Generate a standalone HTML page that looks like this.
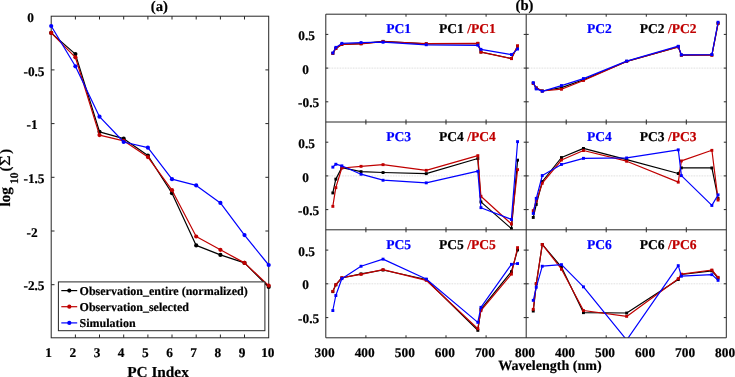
<!DOCTYPE html>
<html><head><meta charset="utf-8"><title>PCA figure</title>
<style>
html,body{margin:0;padding:0;background:#fff;}
body{width:735px;height:377px;overflow:hidden;}
svg{display:block;filter:blur(0.35px);}
text{font-family:"Liberation Serif",serif;font-weight:bold;color:#000;fill:currentColor;stroke:currentColor;stroke-width:0.2px;text-rendering:geometricPrecision;}
.t{font-size:13.33px;}
.l{font-size:14.67px;}
.pc{font-size:13.55px;}
.ax{stroke:#262626;stroke-width:1;fill:none;}
.ln{fill:none;stroke-width:1.2;stroke-linejoin:round;stroke-linecap:round;}
</style></head><body>
<svg width="735" height="377" viewBox="0 0 735 377">
<rect x="0" y="0" width="735" height="377" fill="#fff"/>
<g id="panel-a">
<rect class="ax" x="51.2" y="16.2" width="217.5" height="321.6"/>
<path class="ax" d="M75.4 337.8v-3.3M75.4 16.2v3.3M99.5 337.8v-3.3M99.5 16.2v3.3M123.7 337.8v-3.3M123.7 16.2v3.3M147.9 337.8v-3.3M147.9 16.2v3.3M172.0 337.8v-3.3M172.0 16.2v3.3M196.2 337.8v-3.3M196.2 16.2v3.3M220.4 337.8v-3.3M220.4 16.2v3.3M244.5 337.8v-3.3M244.5 16.2v3.3M51.2 69.9h3.3M268.7 69.9h-3.3M51.2 123.6h3.3M268.7 123.6h-3.3M51.2 177.3h3.3M268.7 177.3h-3.3M51.2 231.0h3.3M268.7 231.0h-3.3M51.2 284.7h3.3M268.7 284.7h-3.3"/>
<polyline class="ln" points="51.2,32.9 75.4,54.1 99.5,131.8 123.7,138.7 147.9,155.6 172.0,193.2 196.2,245.4 220.4,254.9 244.5,262.9 268.7,287.0" stroke="#000000" style="stroke-width:1.2"/>
<circle cx="51.2" cy="32.9" r="2.1" fill="#000000"/><circle cx="75.4" cy="54.1" r="2.1" fill="#000000"/><circle cx="99.5" cy="131.8" r="2.1" fill="#000000"/><circle cx="123.7" cy="138.7" r="2.1" fill="#000000"/><circle cx="147.9" cy="155.6" r="2.1" fill="#000000"/><circle cx="172.0" cy="193.2" r="2.1" fill="#000000"/><circle cx="196.2" cy="245.4" r="2.1" fill="#000000"/><circle cx="220.4" cy="254.9" r="2.1" fill="#000000"/><circle cx="244.5" cy="262.9" r="2.1" fill="#000000"/><circle cx="268.7" cy="287.0" r="2.1" fill="#000000"/>
<polyline class="ln" points="51.2,32.9 75.4,57.3 99.5,135.1 123.7,140.8 147.9,157.1 172.0,190.2 196.2,236.5 220.4,249.8 244.5,262.9 268.7,285.6" stroke="#c00000" style="stroke-width:1.2"/>
<circle cx="51.2" cy="32.9" r="2.1" fill="#c00000"/><circle cx="75.4" cy="57.3" r="2.1" fill="#c00000"/><circle cx="99.5" cy="135.1" r="2.1" fill="#c00000"/><circle cx="123.7" cy="140.8" r="2.1" fill="#c00000"/><circle cx="147.9" cy="157.1" r="2.1" fill="#c00000"/><circle cx="172.0" cy="190.2" r="2.1" fill="#c00000"/><circle cx="196.2" cy="236.5" r="2.1" fill="#c00000"/><circle cx="220.4" cy="249.8" r="2.1" fill="#c00000"/><circle cx="244.5" cy="262.9" r="2.1" fill="#c00000"/><circle cx="268.7" cy="285.6" r="2.1" fill="#c00000"/>
<polyline class="ln" points="51.2,26.0 75.4,66.3 99.5,116.7 123.7,142.0 147.9,147.7 172.0,179.2 196.2,185.4 220.4,202.9 244.5,235.1 268.7,265.0" stroke="#0000ff" style="stroke-width:1.2"/>
<circle cx="51.2" cy="26.0" r="2.1" fill="#0000ff"/><circle cx="75.4" cy="66.3" r="2.1" fill="#0000ff"/><circle cx="99.5" cy="116.7" r="2.1" fill="#0000ff"/><circle cx="123.7" cy="142.0" r="2.1" fill="#0000ff"/><circle cx="147.9" cy="147.7" r="2.1" fill="#0000ff"/><circle cx="172.0" cy="179.2" r="2.1" fill="#0000ff"/><circle cx="196.2" cy="185.4" r="2.1" fill="#0000ff"/><circle cx="220.4" cy="202.9" r="2.1" fill="#0000ff"/><circle cx="244.5" cy="235.1" r="2.1" fill="#0000ff"/><circle cx="268.7" cy="265.0" r="2.1" fill="#0000ff"/>
<text class="t" x="30.6" y="21.8" text-anchor="middle">0</text>
<text class="t" x="34.0" y="75.5" text-anchor="middle">-0.5</text>
<text class="t" x="32.0" y="129.2" text-anchor="middle">-1</text>
<text class="t" x="34.0" y="182.9" text-anchor="middle">-1.5</text>
<text class="t" x="32.0" y="236.6" text-anchor="middle">-2</text>
<text class="t" x="34.0" y="290.3" text-anchor="middle">-2.5</text>
<text class="t" x="48.7" y="356.9" text-anchor="middle">1</text>
<text class="t" x="72.9" y="356.9" text-anchor="middle">2</text>
<text class="t" x="97.0" y="356.9" text-anchor="middle">3</text>
<text class="t" x="121.2" y="356.9" text-anchor="middle">4</text>
<text class="t" x="145.4" y="356.9" text-anchor="middle">5</text>
<text class="t" x="169.5" y="356.9" text-anchor="middle">6</text>
<text class="t" x="193.7" y="356.9" text-anchor="middle">7</text>
<text class="t" x="217.9" y="356.9" text-anchor="middle">8</text>
<text class="t" x="242.0" y="356.9" text-anchor="middle">9</text>
<text class="t" x="267.8" y="356.9" text-anchor="middle">10</text>
<text x="158" y="376.6" text-anchor="middle" style="font-size:15.3px">PC Index</text>
<text class="l" x="159.3" y="11.4" text-anchor="middle">(a)</text>
<text transform="translate(9.8,206.5) rotate(-90)" style="font-size:15.2px">log</text>
<text transform="translate(17.9,184.0) rotate(-90)" style="font-size:11.6px">10</text>
<text class="l" transform="translate(9.8,171.4) rotate(-90)">(</text>
<text transform="translate(9.9,166.0) rotate(-90) scale(1.2,1)" style="font-size:15.3px;font-weight:normal">&#931;</text>
<text class="l" transform="translate(9.8,153.8) rotate(-90)">)</text>
<rect x="58.4" y="281.9" width="206.5" height="48.8" fill="#fff" stroke="#262626" stroke-width="1"/>
<path d="M61.3 290.6H77.2" stroke="#000000" stroke-width="1.2" fill="none"/>
<circle cx="69.3" cy="290.6" r="2.1" fill="#000000"/>
<text x="79.6" y="294.6" style="font-size:12px">Observation_entire (normalized)</text>
<path d="M61.3 306.7H77.2" stroke="#c00000" stroke-width="1.2" fill="none"/>
<circle cx="69.3" cy="306.7" r="2.1" fill="#c00000"/>
<text x="79.6" y="310.7" style="font-size:12px">Observation_selected</text>
<path d="M61.3 322.9H77.2" stroke="#0000ff" stroke-width="1.2" fill="none"/>
<circle cx="69.3" cy="322.9" r="2.1" fill="#0000ff"/>
<text x="79.6" y="326.9" style="font-size:12px">Simulation</text>
</g>
<defs>
<clipPath id="c00"><rect x="325.8" y="14.2" width="200.4" height="107.8"/></clipPath>
<clipPath id="c01"><rect x="526.2" y="14.2" width="200.1" height="107.8"/></clipPath>
<clipPath id="c10"><rect x="325.8" y="122.0" width="200.4" height="107.8"/></clipPath>
<clipPath id="c11"><rect x="526.2" y="122.0" width="200.1" height="107.8"/></clipPath>
<clipPath id="c20"><rect x="325.8" y="229.8" width="200.4" height="108.0"/></clipPath>
<clipPath id="c21"><rect x="526.2" y="229.8" width="200.1" height="108.0"/></clipPath>
</defs>
<g id="panel-b">
<path d="M325.8 68.1H526.2" stroke="#bdbdbd" stroke-width="0.6" stroke-dasharray="0.8 0.8" fill="none"/>
<g clip-path="url(#c00)">
<polyline class="ln" points="332.8,53.4 335.8,48.5 341.8,44.4 361.0,43.7 383.0,41.4 426.2,43.8 477.8,43.5 480.9,52.0 511.4,58.5 517.6,46.2" stroke="#000000" style="stroke-width:1.2"/>
<rect x="331.4" y="51.9" width="2.9" height="2.9" fill="#000000"/><rect x="334.4" y="47.0" width="2.9" height="2.9" fill="#000000"/><rect x="340.4" y="42.9" width="2.9" height="2.9" fill="#000000"/><rect x="359.6" y="42.2" width="2.9" height="2.9" fill="#000000"/><rect x="381.6" y="39.9" width="2.9" height="2.9" fill="#000000"/><rect x="424.8" y="42.3" width="2.9" height="2.9" fill="#000000"/><rect x="476.4" y="42.0" width="2.9" height="2.9" fill="#000000"/><rect x="479.5" y="50.5" width="2.9" height="2.9" fill="#000000"/><rect x="510.0" y="57.0" width="2.9" height="2.9" fill="#000000"/><rect x="516.1" y="44.8" width="2.9" height="2.9" fill="#000000"/>
<polyline class="ln" points="332.8,53.4 335.8,48.5 341.8,44.5 361.0,43.9 383.0,41.6 426.2,43.7 477.8,43.3 480.9,52.2 511.4,58.7 517.6,45.8" stroke="#c00000" style="stroke-width:1.2"/>
<rect x="331.4" y="51.9" width="2.9" height="2.9" fill="#c00000"/><rect x="334.4" y="47.0" width="2.9" height="2.9" fill="#c00000"/><rect x="340.4" y="43.0" width="2.9" height="2.9" fill="#c00000"/><rect x="359.6" y="42.4" width="2.9" height="2.9" fill="#c00000"/><rect x="381.6" y="40.1" width="2.9" height="2.9" fill="#c00000"/><rect x="424.8" y="42.2" width="2.9" height="2.9" fill="#c00000"/><rect x="476.4" y="41.8" width="2.9" height="2.9" fill="#c00000"/><rect x="479.5" y="50.8" width="2.9" height="2.9" fill="#c00000"/><rect x="510.0" y="57.2" width="2.9" height="2.9" fill="#c00000"/><rect x="516.1" y="44.3" width="2.9" height="2.9" fill="#c00000"/>
<polyline class="ln" points="332.8,53.0 335.8,47.4 341.8,43.4 361.0,42.6 383.0,42.2 426.2,44.8 477.8,45.3 480.9,49.4 511.4,54.6 517.6,49.1" stroke="#0000ff" style="stroke-width:1.2"/>
<rect x="331.4" y="51.5" width="2.9" height="2.9" fill="#0000ff"/><rect x="334.4" y="45.9" width="2.9" height="2.9" fill="#0000ff"/><rect x="340.4" y="41.9" width="2.9" height="2.9" fill="#0000ff"/><rect x="359.6" y="41.1" width="2.9" height="2.9" fill="#0000ff"/><rect x="381.6" y="40.8" width="2.9" height="2.9" fill="#0000ff"/><rect x="424.8" y="43.3" width="2.9" height="2.9" fill="#0000ff"/><rect x="476.4" y="43.8" width="2.9" height="2.9" fill="#0000ff"/><rect x="479.5" y="47.9" width="2.9" height="2.9" fill="#0000ff"/><rect x="510.0" y="53.1" width="2.9" height="2.9" fill="#0000ff"/><rect x="516.1" y="47.6" width="2.9" height="2.9" fill="#0000ff"/>
</g>
<text class="pc" x="386.3" y="33.4" style="color:#0000ff">PC1</text>
<text class="pc" x="439.0" y="33.4">PC1</text>
<text class="pc" x="467.2" y="33.4" style="color:#c00000">/PC1</text>
<path d="M526.2 68.1H726.3" stroke="#bdbdbd" stroke-width="0.6" stroke-dasharray="0.8 0.8" fill="none"/>
<g clip-path="url(#c01)">
<polyline class="ln" points="533.3,83.3 536.3,88.0 542.3,91.0 561.5,87.6 583.5,79.8 626.7,61.4 678.3,46.8 681.4,55.1 711.9,55.0 718.1,23.2" stroke="#000000" style="stroke-width:1.2"/>
<rect x="531.8" y="81.8" width="2.9" height="2.9" fill="#000000"/><rect x="534.8" y="86.5" width="2.9" height="2.9" fill="#000000"/><rect x="540.8" y="89.5" width="2.9" height="2.9" fill="#000000"/><rect x="560.0" y="86.1" width="2.9" height="2.9" fill="#000000"/><rect x="582.0" y="78.3" width="2.9" height="2.9" fill="#000000"/><rect x="625.2" y="59.9" width="2.9" height="2.9" fill="#000000"/><rect x="676.8" y="45.3" width="2.9" height="2.9" fill="#000000"/><rect x="679.9" y="53.6" width="2.9" height="2.9" fill="#000000"/><rect x="710.4" y="53.5" width="2.9" height="2.9" fill="#000000"/><rect x="716.6" y="21.8" width="2.9" height="2.9" fill="#000000"/>
<polyline class="ln" points="533.3,83.5 536.3,87.9 542.3,91.0 561.5,89.2 583.5,80.5 626.7,61.5 678.3,47.0 681.4,55.2 711.9,55.2 718.1,23.5" stroke="#c00000" style="stroke-width:1.2"/>
<rect x="531.8" y="82.0" width="2.9" height="2.9" fill="#c00000"/><rect x="534.8" y="86.5" width="2.9" height="2.9" fill="#c00000"/><rect x="540.8" y="89.5" width="2.9" height="2.9" fill="#c00000"/><rect x="560.0" y="87.8" width="2.9" height="2.9" fill="#c00000"/><rect x="582.0" y="79.0" width="2.9" height="2.9" fill="#c00000"/><rect x="625.2" y="60.0" width="2.9" height="2.9" fill="#c00000"/><rect x="676.8" y="45.5" width="2.9" height="2.9" fill="#c00000"/><rect x="679.9" y="53.8" width="2.9" height="2.9" fill="#c00000"/><rect x="710.4" y="53.8" width="2.9" height="2.9" fill="#c00000"/><rect x="716.6" y="22.1" width="2.9" height="2.9" fill="#c00000"/>
<polyline class="ln" points="533.3,82.7 536.3,88.9 542.3,91.3 561.5,85.6 583.5,78.6 626.7,61.1 678.3,46.2 681.4,54.9 711.9,54.6 718.1,22.2" stroke="#0000ff" style="stroke-width:1.2"/>
<rect x="531.8" y="81.2" width="2.9" height="2.9" fill="#0000ff"/><rect x="534.8" y="87.5" width="2.9" height="2.9" fill="#0000ff"/><rect x="540.8" y="89.8" width="2.9" height="2.9" fill="#0000ff"/><rect x="560.0" y="84.1" width="2.9" height="2.9" fill="#0000ff"/><rect x="582.0" y="77.1" width="2.9" height="2.9" fill="#0000ff"/><rect x="625.2" y="59.6" width="2.9" height="2.9" fill="#0000ff"/><rect x="676.8" y="44.8" width="2.9" height="2.9" fill="#0000ff"/><rect x="679.9" y="53.4" width="2.9" height="2.9" fill="#0000ff"/><rect x="710.4" y="53.1" width="2.9" height="2.9" fill="#0000ff"/><rect x="716.6" y="20.8" width="2.9" height="2.9" fill="#0000ff"/>
</g>
<text class="pc" x="587.0" y="33.4" style="color:#0000ff">PC2</text>
<text class="pc" x="639.7" y="33.4">PC2</text>
<text class="pc" x="667.9" y="33.4" style="color:#c00000">/PC2</text>
<path d="M325.8 175.9H526.2" stroke="#bdbdbd" stroke-width="0.6" stroke-dasharray="0.8 0.8" fill="none"/>
<g clip-path="url(#c10)">
<polyline class="ln" points="332.8,192.9 335.8,179.1 341.8,167.6 361.0,171.6 383.0,172.5 426.2,173.6 477.8,158.5 480.9,201.9 511.4,228.6 517.6,160.1" stroke="#000000" style="stroke-width:1.2"/>
<rect x="331.4" y="191.5" width="2.9" height="2.9" fill="#000000"/><rect x="334.4" y="177.7" width="2.9" height="2.9" fill="#000000"/><rect x="340.4" y="166.2" width="2.9" height="2.9" fill="#000000"/><rect x="359.6" y="170.2" width="2.9" height="2.9" fill="#000000"/><rect x="381.6" y="171.1" width="2.9" height="2.9" fill="#000000"/><rect x="424.8" y="172.2" width="2.9" height="2.9" fill="#000000"/><rect x="476.4" y="157.1" width="2.9" height="2.9" fill="#000000"/><rect x="479.5" y="200.5" width="2.9" height="2.9" fill="#000000"/><rect x="510.0" y="227.2" width="2.9" height="2.9" fill="#000000"/><rect x="516.1" y="158.7" width="2.9" height="2.9" fill="#000000"/>
<polyline class="ln" points="332.8,206.3 335.8,187.6 341.8,168.0 361.0,166.3 383.0,164.7 426.2,170.3 477.8,155.7 480.9,196.2 511.4,224.0 517.6,169.6" stroke="#c00000" style="stroke-width:1.2"/>
<rect x="331.4" y="204.9" width="2.9" height="2.9" fill="#c00000"/><rect x="334.4" y="186.2" width="2.9" height="2.9" fill="#c00000"/><rect x="340.4" y="166.6" width="2.9" height="2.9" fill="#c00000"/><rect x="359.6" y="164.9" width="2.9" height="2.9" fill="#c00000"/><rect x="381.6" y="163.2" width="2.9" height="2.9" fill="#c00000"/><rect x="424.8" y="168.9" width="2.9" height="2.9" fill="#c00000"/><rect x="476.4" y="154.2" width="2.9" height="2.9" fill="#c00000"/><rect x="479.5" y="194.8" width="2.9" height="2.9" fill="#c00000"/><rect x="510.0" y="222.6" width="2.9" height="2.9" fill="#c00000"/><rect x="516.1" y="168.2" width="2.9" height="2.9" fill="#c00000"/>
<polyline class="ln" points="332.8,167.1 335.8,164.2 341.8,165.8 361.0,174.2 383.0,180.2 426.2,182.8 477.8,171.2 480.9,207.7 511.4,219.4 517.6,141.7" stroke="#0000ff" style="stroke-width:1.2"/>
<rect x="331.4" y="165.7" width="2.9" height="2.9" fill="#0000ff"/><rect x="334.4" y="162.8" width="2.9" height="2.9" fill="#0000ff"/><rect x="340.4" y="164.4" width="2.9" height="2.9" fill="#0000ff"/><rect x="359.6" y="172.8" width="2.9" height="2.9" fill="#0000ff"/><rect x="381.6" y="178.8" width="2.9" height="2.9" fill="#0000ff"/><rect x="424.8" y="181.4" width="2.9" height="2.9" fill="#0000ff"/><rect x="476.4" y="169.8" width="2.9" height="2.9" fill="#0000ff"/><rect x="479.5" y="206.2" width="2.9" height="2.9" fill="#0000ff"/><rect x="510.0" y="218.0" width="2.9" height="2.9" fill="#0000ff"/><rect x="516.1" y="140.2" width="2.9" height="2.9" fill="#0000ff"/>
</g>
<text class="pc" x="386.3" y="141.2" style="color:#0000ff">PC3</text>
<text class="pc" x="439.0" y="141.2">PC4</text>
<text class="pc" x="467.2" y="141.2" style="color:#c00000">/PC4</text>
<path d="M526.2 175.9H726.3" stroke="#bdbdbd" stroke-width="0.6" stroke-dasharray="0.8 0.8" fill="none"/>
<g clip-path="url(#c11)">
<polyline class="ln" points="533.3,217.4 536.3,204.4 542.3,181.5 561.5,157.5 583.5,148.4 626.7,159.7 678.3,173.5 681.4,167.8 711.9,167.9 718.1,198.4" stroke="#000000" style="stroke-width:1.2"/>
<rect x="531.8" y="216.0" width="2.9" height="2.9" fill="#000000"/><rect x="534.8" y="203.0" width="2.9" height="2.9" fill="#000000"/><rect x="540.8" y="180.1" width="2.9" height="2.9" fill="#000000"/><rect x="560.0" y="156.1" width="2.9" height="2.9" fill="#000000"/><rect x="582.0" y="147.0" width="2.9" height="2.9" fill="#000000"/><rect x="625.2" y="158.2" width="2.9" height="2.9" fill="#000000"/><rect x="676.8" y="172.1" width="2.9" height="2.9" fill="#000000"/><rect x="679.9" y="166.4" width="2.9" height="2.9" fill="#000000"/><rect x="710.4" y="166.5" width="2.9" height="2.9" fill="#000000"/><rect x="716.6" y="197.0" width="2.9" height="2.9" fill="#000000"/>
<polyline class="ln" points="533.3,210.6 536.3,201.1 542.3,183.2 561.5,160.0 583.5,150.5 626.7,161.2 678.3,182.1 681.4,160.9 711.9,150.3 718.1,200.0" stroke="#c00000" style="stroke-width:1.2"/>
<rect x="531.8" y="209.2" width="2.9" height="2.9" fill="#c00000"/><rect x="534.8" y="199.7" width="2.9" height="2.9" fill="#c00000"/><rect x="540.8" y="181.8" width="2.9" height="2.9" fill="#c00000"/><rect x="560.0" y="158.6" width="2.9" height="2.9" fill="#c00000"/><rect x="582.0" y="149.1" width="2.9" height="2.9" fill="#c00000"/><rect x="625.2" y="159.8" width="2.9" height="2.9" fill="#c00000"/><rect x="676.8" y="180.7" width="2.9" height="2.9" fill="#c00000"/><rect x="679.9" y="159.5" width="2.9" height="2.9" fill="#c00000"/><rect x="710.4" y="148.9" width="2.9" height="2.9" fill="#c00000"/><rect x="716.6" y="198.6" width="2.9" height="2.9" fill="#c00000"/>
<polyline class="ln" points="533.3,213.4 536.3,198.3 542.3,175.5 561.5,164.4 583.5,158.3 626.7,157.9 678.3,149.8 681.4,175.6 711.9,205.4 718.1,194.8" stroke="#0000ff" style="stroke-width:1.2"/>
<rect x="531.8" y="212.0" width="2.9" height="2.9" fill="#0000ff"/><rect x="534.8" y="196.9" width="2.9" height="2.9" fill="#0000ff"/><rect x="540.8" y="174.1" width="2.9" height="2.9" fill="#0000ff"/><rect x="560.0" y="163.0" width="2.9" height="2.9" fill="#0000ff"/><rect x="582.0" y="156.9" width="2.9" height="2.9" fill="#0000ff"/><rect x="625.2" y="156.5" width="2.9" height="2.9" fill="#0000ff"/><rect x="676.8" y="148.4" width="2.9" height="2.9" fill="#0000ff"/><rect x="679.9" y="174.2" width="2.9" height="2.9" fill="#0000ff"/><rect x="710.4" y="204.0" width="2.9" height="2.9" fill="#0000ff"/><rect x="716.6" y="193.4" width="2.9" height="2.9" fill="#0000ff"/>
</g>
<text class="pc" x="587.0" y="141.2" style="color:#0000ff">PC4</text>
<text class="pc" x="639.7" y="141.2">PC3</text>
<text class="pc" x="667.9" y="141.2" style="color:#c00000">/PC3</text>
<path d="M325.8 283.8H526.2" stroke="#bdbdbd" stroke-width="0.6" stroke-dasharray="0.8 0.8" fill="none"/>
<g clip-path="url(#c20)">
<polyline class="ln" points="332.8,291.6 335.8,284.8 341.8,278.0 361.0,273.8 383.0,270.0 426.2,279.5 477.8,330.3 480.9,309.4 511.4,271.6 517.6,249.9" stroke="#000000" style="stroke-width:1.2"/>
<rect x="331.4" y="290.2" width="2.9" height="2.9" fill="#000000"/><rect x="334.4" y="283.4" width="2.9" height="2.9" fill="#000000"/><rect x="340.4" y="276.6" width="2.9" height="2.9" fill="#000000"/><rect x="359.6" y="272.4" width="2.9" height="2.9" fill="#000000"/><rect x="381.6" y="268.6" width="2.9" height="2.9" fill="#000000"/><rect x="424.8" y="278.1" width="2.9" height="2.9" fill="#000000"/><rect x="476.4" y="328.9" width="2.9" height="2.9" fill="#000000"/><rect x="479.5" y="307.9" width="2.9" height="2.9" fill="#000000"/><rect x="510.0" y="270.2" width="2.9" height="2.9" fill="#000000"/><rect x="516.1" y="248.5" width="2.9" height="2.9" fill="#000000"/>
<polyline class="ln" points="332.8,291.4 335.8,284.6 341.8,277.7 361.0,274.4 383.0,269.7 426.2,280.3 477.8,328.7 480.9,310.7 511.4,274.1 517.6,247.6" stroke="#c00000" style="stroke-width:1.2"/>
<rect x="331.4" y="289.9" width="2.9" height="2.9" fill="#c00000"/><rect x="334.4" y="283.2" width="2.9" height="2.9" fill="#c00000"/><rect x="340.4" y="276.2" width="2.9" height="2.9" fill="#c00000"/><rect x="359.6" y="272.9" width="2.9" height="2.9" fill="#c00000"/><rect x="381.6" y="268.2" width="2.9" height="2.9" fill="#c00000"/><rect x="424.8" y="278.9" width="2.9" height="2.9" fill="#c00000"/><rect x="476.4" y="327.2" width="2.9" height="2.9" fill="#c00000"/><rect x="479.5" y="309.2" width="2.9" height="2.9" fill="#c00000"/><rect x="510.0" y="272.7" width="2.9" height="2.9" fill="#c00000"/><rect x="516.1" y="246.2" width="2.9" height="2.9" fill="#c00000"/>
<polyline class="ln" points="332.8,310.5 335.8,295.5 341.8,278.7 361.0,266.2 383.0,259.1 426.2,279.0 477.8,322.4 480.9,307.4 511.4,264.3 517.6,263.5" stroke="#0000ff" style="stroke-width:1.2"/>
<rect x="331.4" y="309.1" width="2.9" height="2.9" fill="#0000ff"/><rect x="334.4" y="294.1" width="2.9" height="2.9" fill="#0000ff"/><rect x="340.4" y="277.2" width="2.9" height="2.9" fill="#0000ff"/><rect x="359.6" y="264.8" width="2.9" height="2.9" fill="#0000ff"/><rect x="381.6" y="257.7" width="2.9" height="2.9" fill="#0000ff"/><rect x="424.8" y="277.6" width="2.9" height="2.9" fill="#0000ff"/><rect x="476.4" y="320.9" width="2.9" height="2.9" fill="#0000ff"/><rect x="479.5" y="305.9" width="2.9" height="2.9" fill="#0000ff"/><rect x="510.0" y="262.9" width="2.9" height="2.9" fill="#0000ff"/><rect x="516.1" y="262.1" width="2.9" height="2.9" fill="#0000ff"/>
</g>
<text class="pc" x="386.3" y="249.0" style="color:#0000ff">PC5</text>
<text class="pc" x="439.0" y="249.0">PC5</text>
<text class="pc" x="467.2" y="249.0" style="color:#c00000">/PC5</text>
<path d="M526.2 283.8H726.3" stroke="#bdbdbd" stroke-width="0.6" stroke-dasharray="0.8 0.8" fill="none"/>
<g clip-path="url(#c21)">
<polyline class="ln" points="533.3,311.0 536.3,283.8 542.3,244.4 561.5,267.2 583.5,312.7 626.7,313.0 678.3,279.5 681.4,274.5 711.9,270.8 718.1,278.0" stroke="#000000" style="stroke-width:1.2"/>
<rect x="531.8" y="309.6" width="2.9" height="2.9" fill="#000000"/><rect x="534.8" y="282.4" width="2.9" height="2.9" fill="#000000"/><rect x="540.8" y="243.0" width="2.9" height="2.9" fill="#000000"/><rect x="560.0" y="265.8" width="2.9" height="2.9" fill="#000000"/><rect x="582.0" y="311.2" width="2.9" height="2.9" fill="#000000"/><rect x="625.2" y="311.6" width="2.9" height="2.9" fill="#000000"/><rect x="676.8" y="278.1" width="2.9" height="2.9" fill="#000000"/><rect x="679.9" y="273.1" width="2.9" height="2.9" fill="#000000"/><rect x="710.4" y="269.4" width="2.9" height="2.9" fill="#000000"/><rect x="716.6" y="276.6" width="2.9" height="2.9" fill="#000000"/>
<polyline class="ln" points="533.3,309.4 536.3,283.5 542.3,244.4 561.5,269.2 583.5,310.5 626.7,316.4 678.3,278.7 681.4,274.1 711.9,270.0 718.1,277.3" stroke="#c00000" style="stroke-width:1.2"/>
<rect x="531.8" y="307.9" width="2.9" height="2.9" fill="#c00000"/><rect x="534.8" y="282.1" width="2.9" height="2.9" fill="#c00000"/><rect x="540.8" y="243.0" width="2.9" height="2.9" fill="#c00000"/><rect x="560.0" y="267.8" width="2.9" height="2.9" fill="#c00000"/><rect x="582.0" y="309.1" width="2.9" height="2.9" fill="#c00000"/><rect x="625.2" y="314.9" width="2.9" height="2.9" fill="#c00000"/><rect x="676.8" y="277.2" width="2.9" height="2.9" fill="#c00000"/><rect x="679.9" y="272.7" width="2.9" height="2.9" fill="#c00000"/><rect x="710.4" y="268.6" width="2.9" height="2.9" fill="#c00000"/><rect x="716.6" y="275.9" width="2.9" height="2.9" fill="#c00000"/>
<polyline class="ln" points="533.3,300.4 536.3,287.2 542.3,266.2 561.5,264.6 583.5,286.9 626.7,340.0 678.3,265.6 681.4,276.2 711.9,274.6 718.1,280.3" stroke="#0000ff" style="stroke-width:1.2"/>
<rect x="531.8" y="298.9" width="2.9" height="2.9" fill="#0000ff"/><rect x="534.8" y="285.8" width="2.9" height="2.9" fill="#0000ff"/><rect x="540.8" y="264.8" width="2.9" height="2.9" fill="#0000ff"/><rect x="560.0" y="263.2" width="2.9" height="2.9" fill="#0000ff"/><rect x="582.0" y="285.4" width="2.9" height="2.9" fill="#0000ff"/><rect x="625.2" y="338.6" width="2.9" height="2.9" fill="#0000ff"/><rect x="676.8" y="264.2" width="2.9" height="2.9" fill="#0000ff"/><rect x="679.9" y="274.8" width="2.9" height="2.9" fill="#0000ff"/><rect x="710.4" y="273.2" width="2.9" height="2.9" fill="#0000ff"/><rect x="716.6" y="278.9" width="2.9" height="2.9" fill="#0000ff"/>
</g>
<text class="pc" x="587.0" y="249.0" style="color:#0000ff">PC6</text>
<text class="pc" x="639.7" y="249.0">PC6</text>
<text class="pc" x="667.9" y="249.0" style="color:#c00000">/PC6</text>
<path class="ax" d="M325.8 14.2H726.3V337.8H325.8ZM526.2 14.2V337.8M325.8 122.0H726.3M325.8 229.8H726.3M365.9 14.2v2.5M365.9 122.0v-2.5M406.0 14.2v2.5M406.0 122.0v-2.5M446.0 14.2v2.5M446.0 122.0v-2.5M486.1 14.2v2.5M486.1 122.0v-2.5M325.8 101.8h2.5M526.2 101.8h-2.5M325.8 68.1h2.5M526.2 68.1h-2.5M325.8 34.4h2.5M526.2 34.4h-2.5M365.9 122.0v2.5M365.9 229.8v-2.5M406.0 122.0v2.5M406.0 229.8v-2.5M446.0 122.0v2.5M446.0 229.8v-2.5M486.1 122.0v2.5M486.1 229.8v-2.5M325.8 209.6h2.5M526.2 209.6h-2.5M325.8 175.9h2.5M526.2 175.9h-2.5M325.8 142.2h2.5M526.2 142.2h-2.5M365.9 229.8v2.5M365.9 337.8v-2.5M406.0 229.8v2.5M406.0 337.8v-2.5M446.0 229.8v2.5M446.0 337.8v-2.5M486.1 229.8v2.5M486.1 337.8v-2.5M325.8 317.6h2.5M526.2 317.6h-2.5M325.8 283.8h2.5M526.2 283.8h-2.5M325.8 250.1h2.5M526.2 250.1h-2.5M566.2 14.2v2.5M566.2 122.0v-2.5M606.2 14.2v2.5M606.2 122.0v-2.5M646.3 14.2v2.5M646.3 122.0v-2.5M686.3 14.2v2.5M686.3 122.0v-2.5M526.2 101.8h2.5M726.3 101.8h-2.5M526.2 68.1h2.5M726.3 68.1h-2.5M526.2 34.4h2.5M726.3 34.4h-2.5M566.2 122.0v2.5M566.2 229.8v-2.5M606.2 122.0v2.5M606.2 229.8v-2.5M646.3 122.0v2.5M646.3 229.8v-2.5M686.3 122.0v2.5M686.3 229.8v-2.5M526.2 209.6h2.5M726.3 209.6h-2.5M526.2 175.9h2.5M726.3 175.9h-2.5M526.2 142.2h2.5M726.3 142.2h-2.5M566.2 229.8v2.5M566.2 337.8v-2.5M606.2 229.8v2.5M606.2 337.8v-2.5M646.3 229.8v2.5M646.3 337.8v-2.5M686.3 229.8v2.5M686.3 337.8v-2.5M526.2 317.6h2.5M726.3 317.6h-2.5M526.2 283.8h2.5M726.3 283.8h-2.5M526.2 250.1h2.5M726.3 250.1h-2.5"/>
<text class="t" x="306.7" y="40.0" text-anchor="middle">0.5</text>
<text class="t" x="305.6" y="73.7" text-anchor="middle">0</text>
<text class="t" x="308.6" y="107.4" text-anchor="middle">-0.5</text>
<text class="t" x="306.7" y="147.8" text-anchor="middle">0.5</text>
<text class="t" x="305.6" y="181.5" text-anchor="middle">0</text>
<text class="t" x="308.6" y="215.2" text-anchor="middle">-0.5</text>
<text class="t" x="306.7" y="255.7" text-anchor="middle">0.5</text>
<text class="t" x="305.6" y="289.4" text-anchor="middle">0</text>
<text class="t" x="308.6" y="323.2" text-anchor="middle">-0.5</text>
<text class="t" x="324.6" y="356.7" text-anchor="middle">300</text>
<text class="t" x="364.7" y="356.7" text-anchor="middle">400</text>
<text class="t" x="404.8" y="356.7" text-anchor="middle">500</text>
<text class="t" x="444.8" y="356.7" text-anchor="middle">600</text>
<text class="t" x="484.9" y="356.7" text-anchor="middle">700</text>
<text class="t" x="525.0" y="356.7" text-anchor="middle">800</text>
<text class="t" x="565.0" y="356.7" text-anchor="middle">400</text>
<text class="t" x="605.0" y="356.7" text-anchor="middle">500</text>
<text class="t" x="645.1" y="356.7" text-anchor="middle">600</text>
<text class="t" x="685.1" y="356.7" text-anchor="middle">700</text>
<text class="t" x="725.1" y="356.7" text-anchor="middle">800</text>
<text x="549.9" y="370.0" text-anchor="middle" style="font-size:14.05px">Wavelength (nm)</text>
<text class="l" x="524.5" y="9.6" text-anchor="middle">(b)</text>
</g>
</svg>
</body></html>
